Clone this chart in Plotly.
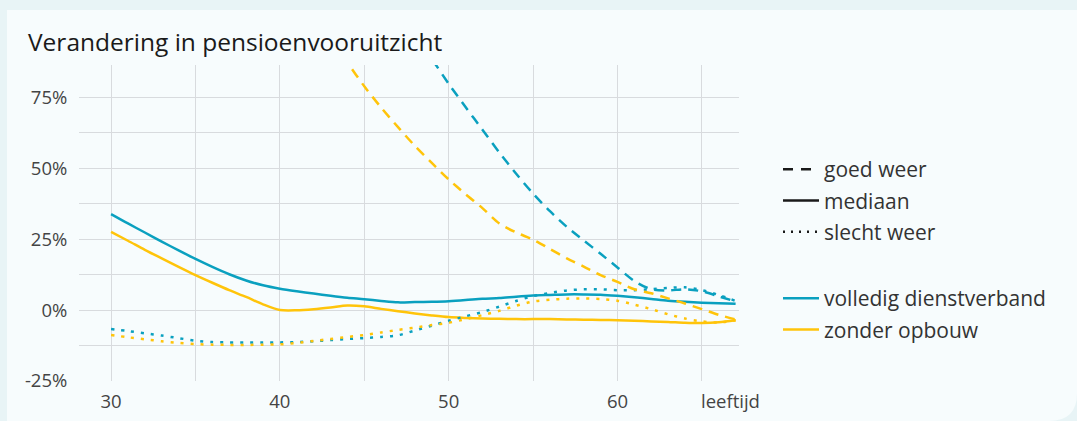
import plotly.graph_objects as go

# ---------------- data ----------------
ages = list(range(30, 68))

blue_median = [33.8, 30.5, 27.3, 24.1, 21.0, 18.0, 15.2, 12.6, 10.4, 8.7,
               7.5, 6.6, 5.8, 5.0, 4.3, 3.8, 3.2, 2.7, 2.8, 2.9,
               3.1, 3.5, 4.0, 4.2, 4.7, 5.1, 5.3, 5.5, 5.5, 5.4,
               5.0, 4.5, 3.9, 3.3, 2.9, 2.6, 2.4, 2.2]

yellow_median = [27.5, 24.4, 21.2, 18.2, 15.2, 12.3, 9.6, 7.0, 4.6, 2.0,
                 0.0, -0.1, 0.3, 0.9, 1.6, 1.3, 0.4, -0.4, -1.2, -1.9,
                 -2.5, -2.8, -3.0, -3.1, -3.2, -3.2, -3.2, -3.3, -3.4, -3.5,
                 -3.6, -3.8, -4.0, -4.2, -4.5, -4.6, -4.3, -3.6]

blue_bad = [-6.7, -7.4, -8.2, -9.0, -9.9, -10.8, -11.3, -11.4, -11.4, -11.4,
            -11.4, -11.3, -11.0, -10.6, -10.2, -9.9, -9.5, -8.9, -7.2, -5.5,
            -3.8, -2.2, -0.7, 1.2, 3.2, 4.9, 6.0, 6.9, 7.3, 7.3,
            7.0, 7.0, 7.3, 7.8, 8.0, 7.0, 5.3, 3.2]

yellow_bad = [-8.8, -9.6, -10.3, -11.0, -11.6, -12.0, -12.2, -12.3, -12.3, -12.2,
              -12.1, -11.6, -10.9, -10.2, -9.5, -8.8, -7.9, -7.0, -6.2, -5.3,
              -4.5, -3.2, -1.8, -0.3, 1.5, 3.0, 3.6, 4.0, 4.1, 3.9,
              3.3, 1.9, 0.3, -1.5, -3.0, -4.0, -4.4, -3.6]

blue_good_ages = [48.5, 49, 50, 51, 52, 53, 54, 55, 56, 57, 58, 59, 60, 61, 62, 63, 64, 65, 66, 67]
blue_good = [93.0, 88.5, 79.7, 71.5, 63.5, 55.5, 48.0, 41.0, 34.8, 29.3, 24.5, 19.8,
             15.0, 10.2, 7.3, 6.9, 7.3, 6.6, 4.8, 3.0]

yellow_good_ages = [43, 44, 45, 46, 47, 48, 49, 50, 51, 52, 53, 54, 55, 56, 57, 58, 59, 60, 61, 62, 63, 64, 65, 66, 67]
yellow_good = [94.0, 87.0, 78.8, 71.3, 64.4, 57.8, 51.8, 46.0, 40.8, 35.9, 30.5, 27.3,
               24.8, 21.5, 18.2, 15.3, 12.3, 9.9, 7.3, 5.9, 4.1, 2.3, 0.3, -1.7, -3.3]

x_ticks = [30, 40, 50, 60]
y_ticks = [-25, 0, 25, 50, 75]
y_ticktext = ["-25%", "0%", "25%", "50%", "75%"]

style_labels = ["goed weer", "mediaan", "slecht weer"]
group_labels = ["volledig dienstverband", "zonder opbouw"]

# ---------------- style ----------------
BLUE = "#0aa0bf"
YELLOW = "#ffc40a"
LW = 2.5
DASH = "10px,7px"
DOT = "3px,7px"
FONT = "Open Sans"
GRID = "#d8dbde"

fig = go.Figure()

series = [
    (ages, blue_median, BLUE, "solid"),
    (ages, yellow_median, YELLOW, "solid"),
    (ages, blue_bad, BLUE, DOT),
    (ages, yellow_bad, YELLOW, DOT),
    (blue_good_ages, blue_good, BLUE, DASH),
    (yellow_good_ages, yellow_good, YELLOW, DASH),
]
for xs, ys, col, dash in series:
    fig.add_trace(go.Scatter(
        x=xs, y=ys, mode="lines", showlegend=False, hoverinfo="skip",
        line=dict(color=col, width=LW, dash=dash, shape="spline", smoothing=0.8),
    ))

# legend entries: line styles
for i, (lab, dash) in enumerate(zip(style_labels, ["10px,8px", "solid", "2px,6px"])):
    fig.add_trace(go.Scatter(
        x=[None], y=[None], mode="lines", name=lab, legend="legend",
        legendgroup="s%d" % i,
        line=dict(color="#1a1a1a", width=2.5, dash=dash),
    ))
# legend entries: groups
for i, (lab, col) in enumerate(zip(group_labels, [BLUE, YELLOW])):
    fig.add_trace(go.Scatter(
        x=[None], y=[None], mode="lines", name=lab, legend="legend2",
        legendgroup="g%d" % i,
        line=dict(color=col, width=2.5),
    ))

# plot area in pixels: x 79..739, y 65..381
L, R, T, B = 79, 1077 - 739, 65, 421 - 381
W_PLOT = 1077 - L - R
H_PLOT = 421 - T - B

def px(xp):
    return (xp - L) / W_PLOT

def py(yp):
    return (421 - B - yp) / H_PLOT

# panel background with rounded bottom-right corner
x0, y0 = px(7), py(10)
x1, y1 = px(1077), py(421)
rx = 28 / W_PLOT
ry = 28 / H_PLOT
panel_path = (f"M {x0},{y0} L {x1},{y0} L {x1},{y1 + ry} "
              f"Q {x1},{y1} {x1 - rx},{y1} L {x0},{y1} Z")
fig.add_shape(type="path", path=panel_path, xref="paper", yref="paper",
              fillcolor="#f7fcfd", line=dict(width=0), layer="below")

legend_common = dict(
    font=dict(family=FONT, size=21, color="#333333"),
    bgcolor="rgba(0,0,0,0)",
    traceorder="grouped",
    tracegroupgap=1,
    itemwidth=36,
    xanchor="left",
    yanchor="top",
    itemclick=False,
    itemdoubleclick=False,
)

fig.update_layout(
    width=1077, height=421, autosize=False,
    margin=dict(l=L, r=R, t=T, b=B, autoexpand=False),
    paper_bgcolor="#e8f4f6",
    plot_bgcolor="rgba(0,0,0,0)",
    font=dict(family=FONT, color="#444444"),
    title=dict(
        text="Verandering in pensioenvooruitzicht",
        x=28 / 1077, xref="container", xanchor="left",
        y=1 - 42 / 421, yref="container", yanchor="middle",
        font=dict(family=FONT, size=24.5, color="#1a1a1a"),
    ),
    xaxis=dict(
        range=[28.1, 67.2],
        tickvals=x_ticks, ticktext=[str(v) for v in x_ticks],
        showgrid=True, gridcolor=GRID, gridwidth=1,
        minor=dict(dtick=5, tick0=0, showgrid=True, gridcolor=GRID, gridwidth=1),
        zeroline=False, showline=False,
        ticks="outside", ticklen=4, tickcolor="rgba(0,0,0,0)",
        tickfont=dict(family=FONT, size=18.5, color="#444444"),
    ),
    yaxis=dict(
        range=[-25, 86.3],
        tickvals=y_ticks, ticktext=y_ticktext,
        showgrid=True, gridcolor=GRID, gridwidth=1,
        minor=dict(dtick=12.5, tick0=0, showgrid=True, gridcolor=GRID, gridwidth=1),
        zeroline=False, showline=False,
        ticks="outside", ticklen=7, tickcolor="rgba(0,0,0,0)",
        tickfont=dict(family=FONT, size=18.5, color="#444444"),
    ),
    legend=dict(x=px(778), y=py(149), **legend_common),
    legend2=dict(x=px(778), y=py(278), **legend_common),
    annotations=[dict(
        text="leeftijd", x=66.7, xref="x", y=py(400), yref="paper",
        xanchor="center", yanchor="middle", showarrow=False,
        font=dict(family=FONT, size=18.5, color="#444444"),
    )],
)

fig.write_html(
    "out.html",
    config={"responsive": False, "displayModeBar": False},
    post_script="document.body.style.margin='0';",
)
